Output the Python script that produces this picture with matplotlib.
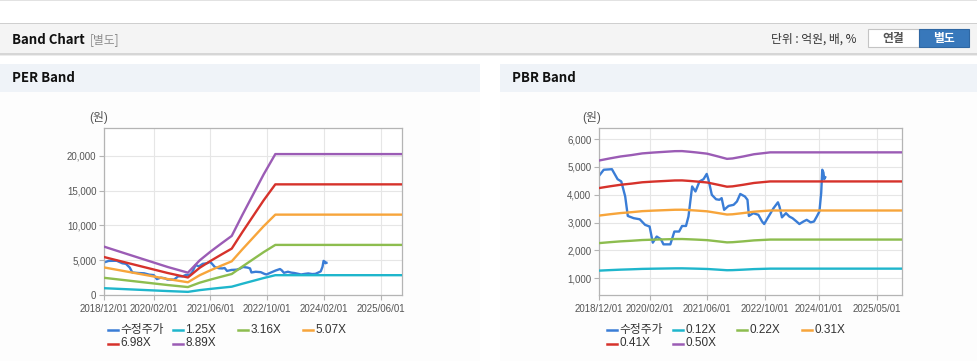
import matplotlib
matplotlib.use("Agg")
import matplotlib.pyplot as plt
import matplotlib.ticker as mticker
from matplotlib.patches import Rectangle
from matplotlib.lines import Line2D
import pandas as pd

# 수정주가 (same series on both charts)
price_dates = ['2018-12-01', '2019-01-10', '2019-03-20', '2019-05-07', '2019-06-07', '2019-07-10',
               '2019-08-01', '2019-09-20', '2019-11-10', '2019-12-25', '2020-02-01', '2020-02-28',
               '2020-04-01', '2020-05-07', '2020-05-28', '2020-07-25', '2020-08-28', '2020-10-07',
               '2020-11-01', '2020-12-04', '2020-12-25', '2021-01-25', '2021-02-22', '2021-03-28',
               '2021-05-01', '2021-05-28', '2021-06-12', '2021-07-10', '2021-08-15', '2021-09-12',
               '2021-10-01', '2021-10-22', '2021-11-28', '2022-01-10', '2022-02-07', '2022-03-07',
               '2022-04-15', '2022-05-07', '2022-05-19', '2022-06-25', '2022-08-07', '2022-09-07',
               '2022-09-25', '2022-11-01', '2022-12-13', '2023-01-19', '2023-02-01', '2023-02-22',
               '2023-03-28', '2023-04-25', '2023-05-22', '2023-06-25', '2023-07-19', '2023-08-22',
               '2023-09-19', '2023-10-22', '2023-11-19', '2023-12-13', '2024-01-04', '2024-01-19',
               '2024-01-28', '2024-02-07', '2024-02-13', '2024-02-22']
price_values = [4680, 4900, 4920, 4560, 4480, 3940,
                3240, 3160, 3120, 2920, 2860, 2280,
                2500, 2400, 2220, 2220, 2680, 2680,
                2880, 2880, 3220, 4300, 4120, 4480,
                4560, 4750, 4540, 4000, 3840, 3820,
                3880, 3460, 3600, 3640, 3760, 4030,
                3940, 3820, 3240, 3340, 3280, 3040,
                2950, 3220, 3520, 3730, 3580, 3190,
                3340, 3220, 3160, 3040, 2950, 3040,
                3100, 3010, 3040, 3220, 3400, 4060,
                4900, 4800, 4560, 4630]

# PER band: EPS and multiples
per_dates = ['2018-12-01', '2019-06-01', '2019-12-01', '2020-06-01', '2020-11-20', '2021-03-01',
             '2021-06-01', '2021-09-01', '2021-12-01', '2022-03-01', '2022-06-01', '2022-09-01',
             '2022-12-10', '2025-12-01']
per_eps = [782, 672, 562, 452, 361, 560, 700, 830, 955, 1290, 1620, 1950, 2278, 2278]
per_multiples = [1.25, 3.16, 5.07, 6.98, 8.89]
per_labels = ['1.25X', '3.16X', '5.07X', '6.98X', '8.89X']
per_xticks = ['2018/12/01', '2020/02/01', '2021/06/01', '2022/10/01', '2024/02/01', '2025/06/01']

# PBR band: BPS and multiples
pbr_dates = ['2018-12-01', '2019-03-01', '2019-06-01', '2019-09-01', '2019-12-01', '2020-03-01',
             '2020-06-01', '2020-09-01', '2020-11-01', '2021-01-01', '2021-03-01', '2021-06-01',
             '2021-09-01', '2021-11-15', '2022-01-01', '2022-04-01', '2022-07-01', '2022-10-01',
             '2022-11-15', '2025-12-01']
pbr_bps = [10410, 10560, 10700, 10800, 10920, 10980,
           11030, 11080, 11085, 11040, 10990, 10900,
           10700, 10530, 10560, 10700, 10860, 10950,
           10995, 10995]
pbr_multiples = [0.1225, 0.2175, 0.3125, 0.4075, 0.5025]
pbr_labels = ['0.12X', '0.22X', '0.31X', '0.41X', '0.50X']
pbr_xticks = ['2018/12/01', '2020/02/01', '2021/06/01', '2022/10/01', '2024/01/01', '2025/05/01']

price_label = '수정주가'
price_color = '#3a7dd6'
band_colors = ['#1fb6cc', '#8dbd4f', '#f7a53b', '#d6322b', '#9b5cb5']

W, H = 978, 361
plt.rcParams['font.family'] = ['Liberation Sans', 'Noto Sans CJK KR']
fig = plt.figure(figsize=(W / 100, H / 100), dpi=100)
fig.patch.set_facecolor('white')


def fx(px):
    return px / W


def fy(py):
    return 1 - py / H


def box(x, y, w, h, color, edge='none', lw=0):
    fig.add_artist(Rectangle((fx(x), fy(y + h)), w / W, h / H, transform=fig.transFigure,
                             facecolor=color, edgecolor=edge, linewidth=lw, zorder=-5))


head_font = ['Noto Sans CJK KR', 'DejaVu Sans']

# page frame / header bar
box(0, 0, W, 1.2, '#e2e2e2')
box(0, 23, W, 30, '#f4f4f4')
box(0, 22.5, W, 1, '#cfcfcf')
box(0, 53, W, 1.5, '#d6d6d6')
box(0, 54.5, W, 1.5, '#ececec')
fig.text(fx(12), fy(40), 'Band Chart', fontsize=9.5, fontweight='bold', color='#111111',
         family=head_font, va='center')
fig.text(fx(90), fy(40), '[별도]', fontsize=8.5, color='#8c8c8c', family=head_font, va='center')
fig.text(fx(857), fy(39.5), '단위 : 억원, 배, %', fontsize=8.5, color='#333333',
         family=head_font, va='center', ha='right')
box(868, 29, 51, 18, 'white', edge='#c4c4c4', lw=0.8)
fig.text(fx(893.5), fy(38.5), '연결', fontsize=8.5, fontweight='bold', color='#555555',
         family=head_font, va='center', ha='center')
box(919, 29, 50, 18, '#3878bb', edge='#2f67a3', lw=0.8)
fig.text(fx(944), fy(38.5), '별도', fontsize=8.5, fontweight='bold', color='white',
         family=head_font, va='center', ha='center')

# panels
for x0, x1, title in [(0, 480, 'PER Band'), (500, 978, 'PBR Band')]:
    box(x0, 64, x1 - x0, 28, '#eff3f8')
    box(x0, 92, x1 - x0, H - 92, '#fdfdfd')
    fig.text(fx(x0 + 12), fy(78.5), title, fontsize=9.5, fontweight='bold', color='#111111',
             family=head_font, va='center')


def draw_chart(rect, dates, base, multiples, labels, xticks, ylim, yticks, unit_x, leg_x):
    ax = fig.add_axes(rect)
    ax.set_facecolor('white')
    d = pd.to_datetime(dates)
    ax.plot(pd.to_datetime(price_dates), price_values, color=price_color, lw=1.7, zorder=2)
    for m, c in zip(multiples, band_colors):
        ax.plot(d, [b * m for b in base], color=c, lw=1.7, zorder=3)
    ax.set_xlim(pd.Timestamp('2018-12-01'), pd.Timestamp('2025-12-01'))
    ax.set_ylim(*ylim)
    ax.set_yticks(yticks)
    ax.yaxis.set_major_formatter(mticker.FuncFormatter(lambda v, p: f'{v:,.0f}'))
    ax.set_xticks(pd.to_datetime(xticks, format='%Y/%m/%d'))
    ax.set_xticklabels(xticks)
    ax.grid(True, color='#e6e6e6', lw=0.8)
    ax.set_axisbelow(True)
    for s in ax.spines.values():
        s.set_color('#b4b4b4')
        s.set_linewidth(0.9)
    ax.tick_params(axis='both', length=3.5, width=0.8, color='#b4b4b4',
                   labelcolor='#555555', labelsize=7)
    ax.tick_params(axis='x', pad=3)
    ax.tick_params(axis='y', pad=2)
    fig.text(fx(unit_x), fy(118), '(원)', fontsize=8.5, color='#555555', ha='center', va='center')

    # legend, row-wise like the original
    names = [price_label] + labels
    colors = [price_color] + band_colors
    for i, (n, c) in enumerate(zip(names, colors)):
        row, col = divmod(i, 4)
        lx = leg_x[col]
        ly = 330 + row * 13.5
        fig.add_artist(Line2D([fx(lx), fx(lx + 10)], [fy(ly), fy(ly)], transform=fig.transFigure,
                              color=c, lw=1.8))
        fig.text(fx(lx + 12.5), fy(ly), n, fontsize=8.5, color='#333333', va='center')
    return ax


draw_chart([fx(104), fy(295), 298 / W, 167 / H], per_dates, per_eps, per_multiples,
           per_labels, per_xticks, (0, 24000), [0, 5000, 10000, 15000, 20000], 99,
           [108, 173, 238, 303])
draw_chart([fx(599), fy(295), 303 / W, 167 / H], pbr_dates, pbr_bps, pbr_multiples,
           pbr_labels, pbr_xticks, (400, 6400), [1000, 2000, 3000, 4000, 5000, 6000], 592,
           [607, 673, 737, 802])

fig.savefig('out.png', dpi=100)
